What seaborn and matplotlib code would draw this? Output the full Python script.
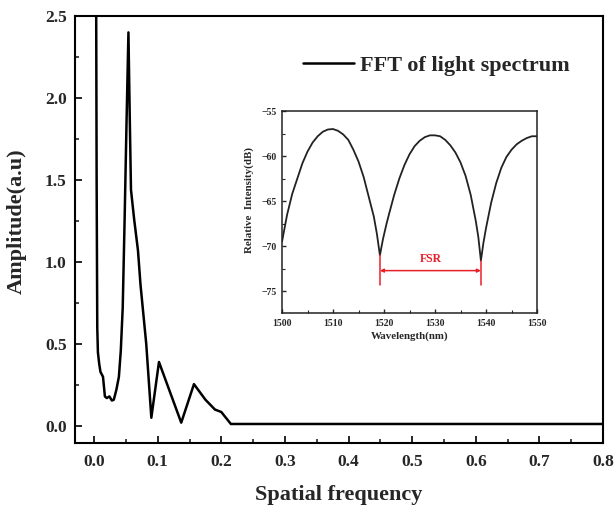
import matplotlib
matplotlib.use("Agg")
import matplotlib.pyplot as plt
from matplotlib.ticker import MultipleLocator
import pandas as pd
import seaborn as sns

# FFT amplitude versus spatial frequency
freq = [0.003, 0.004, 0.005, 0.006, 0.008, 0.010, 0.014, 0.017, 0.020, 0.024,
        0.028, 0.031, 0.035, 0.039, 0.042, 0.045, 0.048, 0.051, 0.054, 0.056,
        0.058, 0.063, 0.069, 0.073, 0.082, 0.090, 0.102, 0.137, 0.157, 0.175,
        0.190, 0.200, 0.215, 0.800]
amplitude = [3.00, 1.50, 0.60, 0.45, 0.38, 0.33, 0.30, 0.18, 0.17, 0.18,
             0.155, 0.16, 0.22, 0.30, 0.46, 0.72, 1.26, 1.85, 2.40, 1.90,
             1.44, 1.26, 1.07, 0.86, 0.50, 0.05, 0.39, 0.02, 0.255, 0.16,
             0.10, 0.085, 0.012, 0.012]

# Transmission spectrum (inset)
wavelength = [1500, 1501, 1502, 1503, 1504, 1505, 1506, 1507, 1508, 1509,
              1510, 1511, 1512, 1513, 1514, 1515, 1516, 1517, 1518, 1518.6,
              1519.2, 1519.8, 1520.5, 1521, 1522, 1523, 1524, 1525, 1526, 1527,
              1528, 1529, 1530, 1531, 1532, 1533, 1534, 1535, 1536, 1537,
              1538, 1538.5, 1539.0, 1539.5, 1540, 1541, 1542, 1543, 1544, 1545,
              1546, 1547, 1548, 1549, 1550]
intensity = [-69.5, -66.5, -64.2, -62.5, -60.8, -59.5, -58.5, -57.8, -57.3, -57.05,
             -57.0, -57.2, -57.6, -58.2, -59.3, -60.6, -62.3, -64.5, -66.7, -68.6,
             -71.0, -69.2, -67.5, -66.4, -64.3, -62.5, -61.0, -59.8, -58.9, -58.3,
             -57.9, -57.7, -57.7, -57.8, -58.2, -58.8, -59.6, -60.7, -62.2, -64.3,
             -67.2, -69.0, -71.6, -69.6, -68.0, -65.2, -63.0, -61.3, -60.1, -59.3,
             -58.7, -58.3, -58.0, -57.8, -57.8]

fsr_start, fsr_end = 1519.2, 1539.0

sns.set_theme(style="ticks")
plt.rcParams["font.family"] = ["Liberation Serif", "DejaVu Serif"]
plt.rcParams["font.weight"] = "bold"
plt.rcParams["axes.labelweight"] = "bold"

fig = plt.figure(figsize=(6.16, 5.07), dpi=100)
ax = fig.add_axes([75 / 616, 64 / 507, 528 / 616, 427 / 507])

main_df = pd.DataFrame({"freq": freq, "amp": amplitude})
sns.lineplot(data=main_df, x="freq", y="amp", ax=ax, color="black",
             linewidth=1.8, sort=False, estimator=None,
             label="FFT of light spectrum")

ax.set_xlim(-0.03, 0.8)
ax.set_ylim(-0.104, 2.5)
ax.xaxis.set_major_locator(MultipleLocator(0.1))
ax.xaxis.set_minor_locator(MultipleLocator(0.05))
ax.yaxis.set_major_locator(MultipleLocator(0.5))
ax.yaxis.set_minor_locator(MultipleLocator(0.25))
ax.tick_params(axis="both", which="major", direction="in", length=5, width=1.4,
               labelsize=12.5, pad=6)
ax.tick_params(axis="x", which="major", pad=8)
ax.tick_params(axis="both", which="minor", direction="in", length=3, width=1.2)
for lab in ax.get_xticklabels() + ax.get_yticklabels():
    lab.set_fontweight("bold")
for sp in ax.spines.values():
    sp.set_linewidth(1.5)
    sp.set_color("black")

ax.set_xlabel("Spatial frequency", fontsize=16, fontweight="bold")
ax.set_ylabel("Amplitude(a.u)", fontsize=16, fontweight="bold")
ax.yaxis.set_label_coords(-0.092, 0.52)
ax.xaxis.set_label_coords(0.5, -0.098)

leg = ax.legend(loc="center left", bbox_to_anchor=(303 / 616, 1 - 66 / 507),
                bbox_transform=fig.transFigure, frameon=False, borderpad=0,
                borderaxespad=0, handlelength=2.3, handletextpad=0.25,
                prop={"family": "Liberation Serif", "weight": "bold", "size": 16})

# Inset with the transmission spectrum
ins = fig.add_axes([282 / 616, 194 / 507, 255 / 616, 202 / 507])
inset_df = pd.DataFrame({"wl": wavelength, "dB": intensity})
sns.lineplot(data=inset_df, x="wl", y="dB", ax=ins, color="#222222",
             linewidth=1.3, sort=False, estimator=None)
ins.set_xlim(1500, 1550)
ins.set_ylim(-77.4, -55)
ins.xaxis.set_major_locator(MultipleLocator(10))
ins.xaxis.set_minor_locator(MultipleLocator(5))
ins.yaxis.set_major_locator(MultipleLocator(5))
ins.yaxis.set_minor_locator(MultipleLocator(2.5))
ins.tick_params(axis="both", which="major", direction="in", length=3, width=1.0,
                labelsize=7, pad=4)
ins.tick_params(axis="both", which="minor", direction="in", length=2, width=0.8)
for lab in ins.get_xticklabels() + ins.get_yticklabels():
    lab.set_fontweight("bold")
for sp in ins.spines.values():
    sp.set_linewidth(1.1)
    sp.set_color("#222222")
ins.set_xlabel("Wavelength(nm)", fontsize=7.8, fontweight="bold", labelpad=3)
ins.set_ylabel("Relative  Intensity(dB)", fontsize=7.8, fontweight="bold")
ins.yaxis.set_label_coords(-0.11, 0.56)

red = "#e8202a"
ins.plot([fsr_start, fsr_start], [-71.0, -74.3], color=red, linewidth=1.1)
ins.plot([fsr_end, fsr_end], [-71.6, -74.3], color=red, linewidth=1.1)
ins.annotate("", xy=(fsr_start, -72.7), xytext=(fsr_end, -72.7),
             arrowprops=dict(arrowstyle="<|-|>", color=red, lw=1.1,
                             mutation_scale=5, shrinkA=0, shrinkB=0))
ins.text((fsr_start + fsr_end) / 2, -72.1, "FSR", color=red, fontsize=8.5,
         fontweight="bold", ha="center", va="bottom")

fig.savefig("out.png", dpi=100)
